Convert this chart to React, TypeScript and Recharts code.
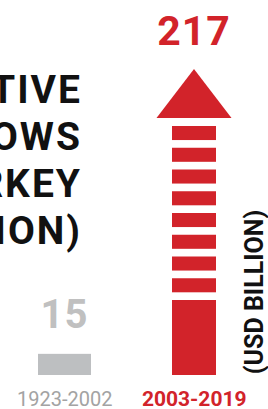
import React from "react";
import { BarChart, Bar, XAxis, YAxis, LabelList } from "recharts";

const periods = ["1923-2002", "2003-2019"];
const fdiValues = [15, 217];
const titleLines = ["CUMULATIVE", "FDI INFLOWS", "TO TURKEY", "(USD BILLION)"];
const unitLabel = "(USD BILLION)";

const RED = "#d2232a";
const GRAY_BAR = "#bdbfc1";
const GRAY_TEXT = "#a3a3a3";
const FONT = "Roboto, 'Open Sans', sans-serif";

const data = periods.map((p, i) => ({ period: p, value: fdiValues[i] }));

// bar shape: plain grey block for the old period, striped arrow for the new one
const ArrowBar = (props: any) => {
  const { x, y, width, height, index } = props;
  const bottom = y + height;
  if (index === 0) {
    return <rect x={x} y={y} width={width} height={height} fill={GRAY_BAR} />;
  }
  const cx = x + width / 2;
  const shaftW = 44;
  const headW = 75;
  const headH = 49;
  const gap = 7.7;
  const solidH = 75;
  const n = 8;
  const stripesTop = y + headH + gap + 0.3;
  const solidTop = bottom - solidH;
  const span = solidTop - gap - stripesTop;
  const stripeH = (span - (n - 1) * gap) / n;
  const stripes = [];
  for (let i = 0; i < n; i++) {
    stripes.push(
      <rect
        key={i}
        x={cx - shaftW / 2}
        y={stripesTop + i * (stripeH + gap)}
        width={shaftW}
        height={stripeH}
        fill={RED}
      />
    );
  }
  return (
    <g>
      <polygon
        points={`${cx},${y} ${cx - headW / 2},${y + headH} ${cx + headW / 2},${y + headH}`}
        fill={RED}
      />
      {stripes}
      <rect x={cx - shaftW / 2} y={solidTop} width={shaftW} height={solidH} fill={RED} />
    </g>
  );
};

const ValueLabel = (props: any) => {
  const { x, y, width, value, index } = props;
  const isNew = index === 1;
  return (
    <text
      x={x + width / 2}
      y={y - (isNew ? 24 : 26)}
      textAnchor="middle"
      fontFamily={FONT}
      fontWeight={700}
      fontSize={isNew ? 41 : 40}
      letterSpacing={1}
      fill={isNew ? RED : "#c0c0c0"}
    >
      {value}
    </text>
  );
};

const PeriodTick = (props: any) => {
  const { x, payload, index } = props;
  const isNew = index === 1;
  return (
    <text
      x={x}
      y={406}
      textAnchor="middle"
      fontFamily={FONT}
      fontWeight={isNew ? 700 : 400}
      fontSize={isNew ? 21 : 20}
      fill={isNew ? RED : GRAY_TEXT}
    >
      {payload.value}
    </text>
  );
};

export default function App() {
  return (
    <div style={{ position: "absolute", left: 0, top: 0, width: 268, height: 409, background: "#fff" }}>
      <BarChart
        width={268}
        height={409}
        data={data}
        margin={{ top: 69, right: 9, bottom: 0, left: 0 }}
        barCategoryGap={0}
      >
        <XAxis
          dataKey="period"
          axisLine={false}
          tickLine={false}
          height={34}
          interval={0}
          tick={<PeriodTick />}
        />
        <YAxis hide domain={[0, "dataMax"]} />
        <Bar dataKey="value" barSize={53} shape={<ArrowBar />} isAnimationActive={false}>
          <LabelList dataKey="value" content={<ValueLabel />} />
        </Bar>
      </BarChart>
      <svg
        width={268}
        height={409}
        style={{ position: "absolute", left: 0, top: 0, pointerEvents: "none" }}
      >
        {titleLines.map((line, i) => (
          <text
            key={line}
            x={82}
            y={103 + i * 47}
            textAnchor="end"
            fontFamily={FONT}
            fontWeight={700}
            fontSize={39}
            letterSpacing={2}
            fill="#111"
          >
            {line}
          </text>
        ))}
        <text
          x={0}
          y={0}
          transform="translate(263,292) rotate(-90)"
          textAnchor="middle"
          fontFamily={FONT}
          fontWeight={700}
          fontSize={25}
          fill="#111"
        >
          {unitLabel}
        </text>
      </svg>
    </div>
  );
}
